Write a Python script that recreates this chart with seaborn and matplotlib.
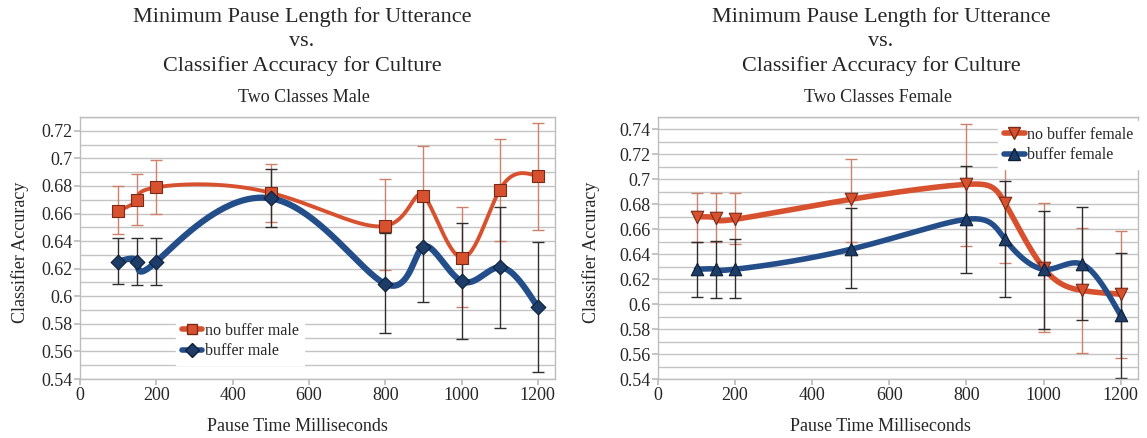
import numpy as np
import pandas as pd
import matplotlib
matplotlib.use("Agg")
import matplotlib.pyplot as plt
from matplotlib.lines import Line2D
from matplotlib.ticker import MultipleLocator, FuncFormatter
import seaborn as sns

# ---------------- data ----------------
pause_ms = [100, 150, 200, 500, 800, 900, 1000, 1100, 1200]

male_nobuf = [0.662, 0.670, 0.679, 0.675, 0.651, 0.673, 0.628, 0.677, 0.687]
male_nobuf_lo = [0.645, 0.652, 0.660, 0.654, 0.619, 0.637, 0.592, 0.640, 0.648]
male_nobuf_hi = [0.680, 0.689, 0.699, 0.696, 0.685, 0.709, 0.665, 0.714, 0.726]

male_buf = [0.625, 0.625, 0.625, 0.671, 0.609, 0.636, 0.611, 0.621, 0.592]
male_buf_lo = [0.609, 0.608, 0.608, 0.650, 0.573, 0.596, 0.569, 0.577, 0.545]
male_buf_hi = [0.642, 0.642, 0.642, 0.692, 0.646, 0.676, 0.653, 0.665, 0.639]

fem_nobuf = [0.670, 0.669, 0.668, 0.684, 0.696, 0.681, 0.629, 0.611, 0.608]
fem_nobuf_lo = [0.650, 0.650, 0.648, 0.650, 0.647, 0.633, 0.578, 0.561, 0.557]
fem_nobuf_hi = [0.689, 0.689, 0.689, 0.716, 0.744, 0.731, 0.681, 0.661, 0.659]

fem_buf = [0.628, 0.628, 0.628, 0.644, 0.668, 0.652, 0.628, 0.632, 0.591]
fem_buf_lo = [0.606, 0.605, 0.605, 0.613, 0.625, 0.606, 0.580, 0.587, 0.541]
fem_buf_hi = [0.650, 0.651, 0.652, 0.677, 0.711, 0.699, 0.675, 0.678, 0.641]

titles = ["Two Classes Male", "Two Classes Female"]
title_lines = ["Minimum Pause Length for Utterance", "vs.", "Classifier Accuracy for Culture"]
xlabel = "Pause Time Milliseconds"
ylabel = "Classifier Accuracy"

RED = "#D8512F"
RED_EDGE = "#7A2A18"
RED_ERR = "#CF806B"
BLUE = "#234E8A"
BLUE_MK = "#1D3C68"
BLUE_EDGE = "#0E1E36"
BLK_ERR = "#2E2E2E"
GRID = "#C4C4C4"

W, H = 1147, 438


def nat_coeffs(t, v):
    k = len(t)
    h = np.diff(t)
    A = np.zeros((k, k))
    r = np.zeros(k)
    A[0, 0] = A[-1, -1] = 1.0
    for i in range(1, k - 1):
        A[i, i - 1] = h[i - 1]
        A[i, i] = 2 * (h[i - 1] + h[i])
        A[i, i + 1] = h[i]
        r[i] = 6 * ((v[i + 1] - v[i]) / h[i] - (v[i] - v[i - 1]) / h[i - 1])
    return np.linalg.solve(A, r)


def nat_eval(t, v, M, tt):
    idx = np.clip(np.searchsorted(t, tt) - 1, 0, len(t) - 2)
    t0, t1 = t[idx], t[idx + 1]
    hh = t1 - t0
    a = (t1 - tt) / hh
    b = (tt - t0) / hh
    return (a * v[idx] + b * v[idx + 1]
            + ((a ** 3 - a) * M[idx] + (b ** 3 - b) * M[idx + 1]) * hh ** 2 / 6)


def param_spline(x, y, n=800):
    # parametric natural cubic spline with a uniform (index) parameter
    x = np.asarray(x, float)
    y = np.asarray(y, float)
    t = np.arange(len(x), dtype=float)
    tt = np.linspace(0, t[-1], n)
    xs = nat_eval(t, x, nat_coeffs(t, x), tt)
    ys = nat_eval(t, y, nat_coeffs(t, y), tt)
    return xs, ys


sns.set_theme(style="white")
serif = ["Liberation Serif", "DejaVu Serif"]
plt.rcParams["font.family"] = serif

fig = plt.figure(figsize=(W / 100, H / 100), dpi=100)
L1, R1, T1, B1 = 80, 555, 117, 379
L2, R2, T2, B2 = 658, 1138, 117, 379
ax1 = fig.add_axes([L1 / W, 1 - B1 / H, (R1 - L1) / W, (B1 - T1) / H])
ax2 = fig.add_axes([L2 / W, 1 - B2 / H, (R2 - L2) / W, (B2 - T2) / H])
XMAX = 1245

configs = [
    (ax1, (0.54, 0.73), [
        ("no buffer male", male_nobuf, male_nobuf_lo, male_nobuf_hi, "s", RED, RED_EDGE, RED_ERR, 2.8, 8.5),
        ("buffer male", male_buf, male_buf_lo, male_buf_hi, "D", BLUE, BLUE_EDGE, BLK_ERR, 4.5, 7.5),
    ]),
    (ax2, (0.54, 0.75), [
        ("no buffer female", fem_nobuf, fem_nobuf_lo, fem_nobuf_hi, "v", RED, RED_EDGE, RED_ERR, 4.0, 9),
        ("buffer female", fem_buf, fem_buf_lo, fem_buf_hi, "^", BLUE, BLUE_EDGE, BLK_ERR, 4.0, 9),
    ]),
]

legends = []
for ax, ylim, series in configs:
    ax.set_xlim(0, XMAX)
    ax.set_ylim(*ylim)
    ax.xaxis.set_major_locator(MultipleLocator(200))
    ax.yaxis.set_major_locator(MultipleLocator(0.02))
    ax.yaxis.set_minor_locator(MultipleLocator(0.01))
    ax.yaxis.set_major_formatter(FuncFormatter(lambda v, p: f"{v:.2f}".rstrip("0").rstrip(".")))
    ax.grid(axis="y", which="both", color=GRID, lw=1.0, zorder=0)
    ax.set_axisbelow(True)
    for s in ax.spines.values():
        s.set_color("#BDBDBD")
        s.set_linewidth(1.0)
    ax.tick_params(axis="both", which="major", length=4, color="#BDBDBD",
                   labelsize=13, pad=1.5, direction="out", bottom=True, left=True)
    ax.tick_params(axis="y", which="minor", length=0)
    handles = []
    for (name, vals, lo, hi, mk, col, edge, ecol, lw, ms) in series:
        vals_a = np.array(vals)
        yerr = np.vstack([vals_a - np.array(lo), np.array(hi) - vals_a])
        ax.errorbar(pause_ms, vals, yerr=yerr, fmt="none", ecolor=ecol,
                    elinewidth=1.0, capsize=4, capthick=1.0, zorder=2)
        xs, ys = param_spline(pause_ms, vals)
        sns.lineplot(x=xs, y=ys, ax=ax, color=col, lw=lw, zorder=3,
                     solid_capstyle="round", estimator=None, sort=False)
        df = pd.DataFrame({"x": pause_ms, "y": vals})
        mcol = col if col == RED else BLUE_MK
        sns.scatterplot(data=df, x="x", y="y", ax=ax, marker=mk, s=ms ** 2,
                        color=mcol, edgecolor=edge, linewidth=0.8, zorder=4)
        handles.append(Line2D([0], [0], color=col, lw=4, marker=mk, markersize=ms * 0.9,
                              markerfacecolor=mcol, markeredgecolor=edge, label=name))
    ax.set_xlabel(xlabel, fontsize=13, family=serif)
    ax.set_ylabel(ylabel, fontsize=13, family=serif)
    legends.append(handles)

# axis label placement (pixel-derived)
ax1.xaxis.set_label_coords((297 - L1) / (R1 - L1), (B1 - 418) / (B1 - T1))
ax2.xaxis.set_label_coords((880 - L2) / (R2 - L2), (B2 - 418) / (B2 - T2))
ax1.yaxis.set_label_coords((29 - L1) / (R1 - L1), (B1 - 252) / (B1 - T1))
ax2.yaxis.set_label_coords((600 - L2) / (R2 - L2), (B2 - 252) / (B2 - T2))

leg_kw = dict(frameon=True, handlelength=1.3, handletextpad=0.15, borderpad=0.35,
              labelspacing=0.3, fancybox=False, prop={"family": serif, "size": 11.5})
leg1 = ax1.legend(handles=legends[0], loc="lower left",
                  bbox_to_anchor=((168 - L1) / (R1 - L1), (B1 - 373) / (B1 - T1)), **leg_kw)
leg2 = ax2.legend(handles=legends[1], loc="upper right",
                  bbox_to_anchor=((1147 - L2) / (R2 - L2), (B2 - 113) / (B2 - T2)), **leg_kw)
for lg in (leg1, leg2):
    fr = lg.get_frame()
    fr.set_edgecolor("white")
    fr.set_facecolor("white")
    fr.set_alpha(1)
    lg.set_zorder(10)

# titles
for cx, scx, sub in [(302, 304, titles[0]), (881, 878, titles[1])]:
    for ln, yc in zip(title_lines, [17, 42, 66]):
        fig.text(cx / W, 1 - yc / H, ln, ha="center", va="center",
                 fontsize=16, family=serif)
    fig.text(scx / W, 1 - 97 / H, sub, ha="center", va="center",
             fontsize=13, family=serif)

fig.savefig("out.png", dpi=100)
